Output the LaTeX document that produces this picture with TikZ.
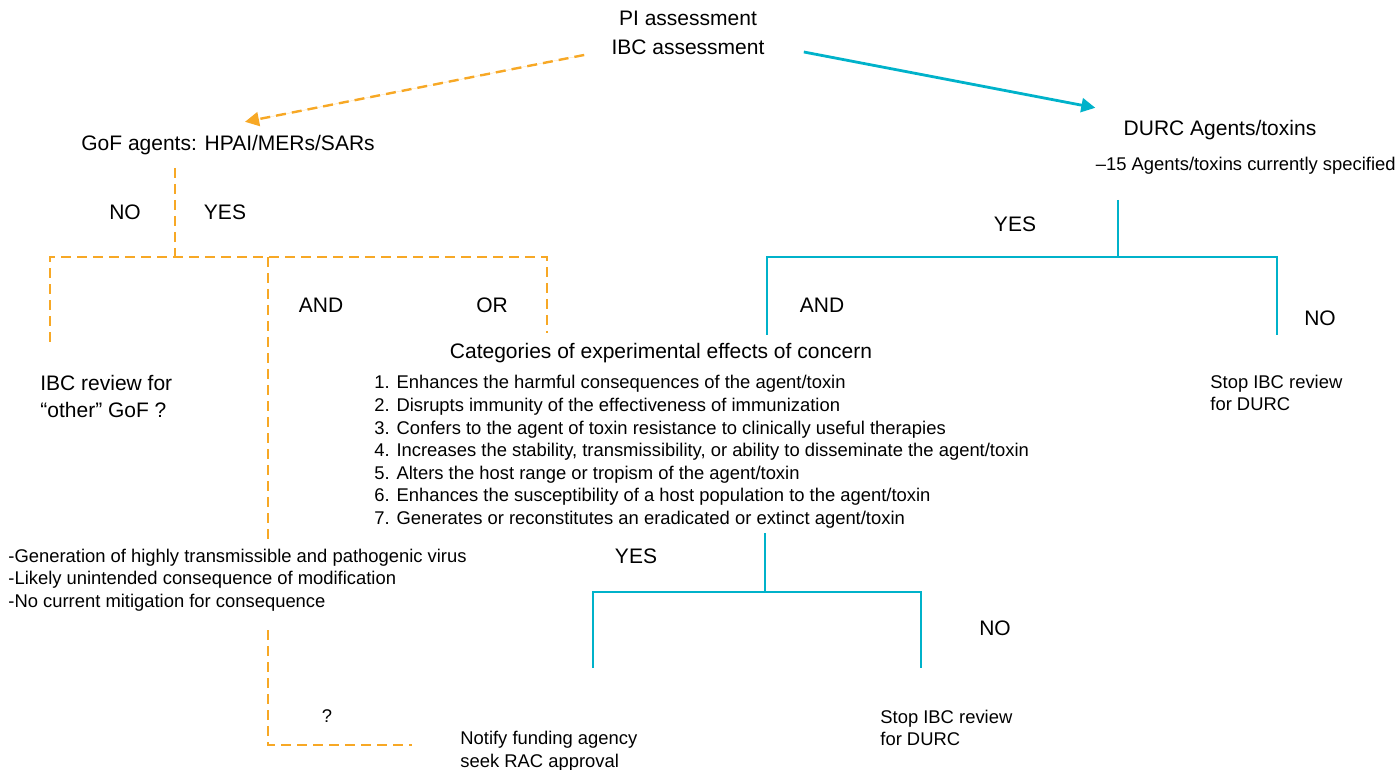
\documentclass[tikz,border=0pt]{standalone}
\usepackage{fontspec}
\setmainfont{Liberation Sans}
\usetikzlibrary{arrows.meta}
\definecolor{gofOrange}{RGB}{247,168,37}
\definecolor{durcTeal}{RGB}{0,178,202}
\tikzset{Big/.style={font=\fontsize{10.5}{12.5}\selectfont, inner sep=0pt},
  Small/.style={font=\fontsize{9.2}{11.3}\selectfont, inner sep=0pt, align=left}}

\begin{document}
\begin{tikzpicture}[x=0.5pt, y=-0.5pt,
    GoF/.style={draw=gofOrange, dash pattern=on 5pt off 3pt, line width=1.2pt},
    DURC/.style={draw=durcTeal, line width=1.4pt},
    Tip/.style={-{Triangle[length=7pt,width=7pt]}}]
        \useasboundingbox (0,0) rectangle (1398,770);
        \node[Big] (PI) at (688,18) {PI assessment};
        \node[Big] (IBC) at (688,47) {IBC assessment};
        \node[Big] (GoF) at (228,145) {GoF agents: HPAI/MERs/SARs};
        \node[Big] (DURC) at (1220,130) {DURC Agents/toxins};
        \node[Small, anchor=east] (Listed) at (1396,166) {–15 Agents/toxins currently specified};

        \node[Big] (gofNo) at (125,212) {NO};
        \node[Big] (gofYes) at (225,212) {YES};
        \node[Big] (gofAnd) at (321,305) {AND};
        \node[Big] (gofOr) at (492,305) {OR};
        \node[Big] (durcYes) at (1015,224) {YES};
        \node[Big] (durcAnd) at (822,305) {AND};
        \node[Big] (durcNo) at (1320,318) {NO};
        \node[Big] (effYes) at (636,556) {YES};
        \node[Big] (effNo) at (995,628) {NO};
        \node[Small] (ask) at (327,716) {?};

        \node[Big, align=left, anchor=west] (Other) at (40,396) {IBC review for\\[1pt]“other” GoF ?};
        \node[Big] (Effects) at (661,353) {Categories of experimental effects of concern};
        \node[Small, anchor=west] (List) at (374,452) {1. Enhances the harmful consequences of the agent/toxin\\
            2. Disrupts immunity of the effectiveness of immunization\\
            3. Confers to the agent of toxin resistance to clinically useful therapies\\
            4. Increases the stability, transmissibility, or ability to disseminate the agent/toxin\\
            5. Alters the host range or tropism of the agent/toxin\\
            6. Enhances the susceptibility of a host population to the agent/toxin\\
            7. Generates or reconstitutes an eradicated or extinct agent/toxin};
        \node[Small, anchor=west] (StopTop) at (1210,393) {Stop IBC review\\for DURC};
        \node[Small, anchor=west] (Risks) at (8,580) {-Generation of highly transmissible and pathogenic virus\\
            -Likely unintended consequence of modification\\
            -No current mitigation for consequence};
        \node[Small, anchor=west] (Notify) at (460,751) {Notify funding agency\\seek RAC approval};
        \node[Small, anchor=west] (StopLow) at (880,728) {Stop IBC review\\for DURC};

        \coordinate (gTop) at (175,168);
        \coordinate (gMid) at (175,257);
        \coordinate (gNoEnd) at (50,342);
        \coordinate (gOrEnd) at (547,333);
        \coordinate (gAndTop) at (268,257);
        \coordinate (gAndEnd) at (268,540);
        \coordinate (gAskTop) at (268,630);
        \coordinate (gAskEnd) at (412,745);
        \coordinate (dTop) at (1118,200);
        \coordinate (dMid) at (1118,257);
        \coordinate (dAndEnd) at (767,335);
        \coordinate (dNoEnd) at (1277,335);
        \coordinate (cTop) at (765,533);
        \coordinate (cMid) at (765,592);
        \coordinate (cYesEnd) at (593,668);
        \coordinate (cNoEnd) at (921,668);

        \draw[GoF, Tip, fill=gofOrange] ([shift={(-27,8)}]IBC.west) -- ([shift={(17,-13)}]GoF.north);
        \draw[DURC, Tip, fill=durcTeal] ([shift={(39,5)}]IBC.east) -- ([shift={(-28,-12)}]DURC.north west);

        \draw[GoF] (gTop) -- (gMid);
        \draw[GoF] (gNoEnd) |- (gMid) -| (gOrEnd);
        \draw[GoF] (gAndTop) -- (gAndEnd);
        \draw[GoF] (gAskTop) |- (gAskEnd);

        \draw[DURC] (dTop) -- (dMid);
        \draw[DURC] (dAndEnd) |- (dMid) -| (dNoEnd);
        \draw[DURC] (cTop) -- (cMid);
        \draw[DURC] (cYesEnd) |- (cMid) -| (cNoEnd);
    \end{tikzpicture}
\end{document}
